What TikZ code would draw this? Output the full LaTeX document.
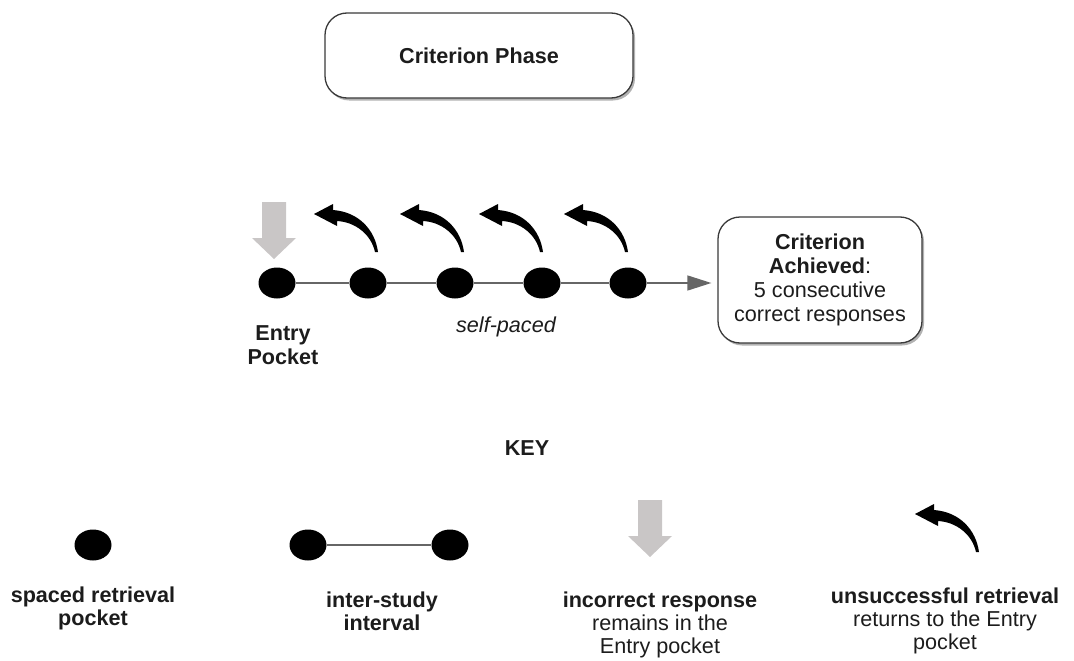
\documentclass[tikz,border=0pt]{standalone}
\usepackage{fontspec}
\setmainfont{Liberation Sans}
\usetikzlibrary{arrows.meta,shapes.geometric,shadows}

\definecolor{ink}{HTML}{1C1C1C}
\definecolor{edge}{HTML}{3A3A3A}
\definecolor{linkgray}{HTML}{666666}
\definecolor{softgray}{HTML}{C9C6C6}

\begin{document}
\begin{tikzpicture}[x=1pt, y=-1pt,
  txt/.style={font=\fontsize{21.6}{23}\selectfont, text=ink, align=center, inner sep=0pt},
  panel/.style={draw=edge, line width=1.3pt, fill=white, rounded corners=22pt,
    drop shadow={shadow xshift=2pt, shadow yshift=-2.5pt, fill=black!55, opacity=0.55}},
  pocket/.style={ellipse, fill=black, minimum width=37pt, minimum height=31pt, inner sep=0pt},
  link/.style={draw=linkgray, line width=1.4pt},
  pics/backarrow/.style={code={
    \fill[black] (1,0) .. controls (-2,-22) and (-18,-40) .. (-44,-42)
      -- (-44,-48) -- (-63,-38) -- (-40,-26) -- (-40,-31)
      .. controls (-22,-30) and (-6,-18) .. (-2,0) -- cycle;}},
  pics/stayarrow/.style={code={
    \fill[softgray] (-12,0) -- (12,0) -- (12,36) -- (22,36) -- (0,57)
      -- (-22,36) -- (-12,36) -- cycle;}}
]
\useasboundingbox (0,0) rectangle (1074,661);

% title panel
\node[panel, txt, minimum width=308pt, minimum height=85pt] (phase) at (479,55.5)
  {\textbf{Criterion Phase}};

% goal panel
\node[panel, txt, minimum width=204pt, minimum height=126pt, font=\fontsize{21.6}{24}\selectfont]
  (goal) at (820,280)
  {\textbf{Criterion}\\ \textbf{Achieved}:\\ 5 consecutive\\ correct responses};

% pockets along the self-paced line
\node[pocket] (p1) at (277,283) {};
\node[pocket] (p2) at (368,283) {};
\node[pocket] (p3) at (455,283) {};
\node[pocket] (p4) at (542,283) {};
\node[pocket] (p5) at (628,283) {};

\draw[link] (p1) -- (p2);
\draw[link] (p2) -- (p3);
\draw[link] (p3) -- (p4);
\draw[link] (p4) -- (p5);
\draw[link, -{Triangle[length=24pt, width=15pt]}, shorten >=6pt] (p5) -- (p5 -| goal.west);

% incorrect / unsuccessful markers
\pic at (274,202) {stayarrow};
\pic at (377,252) {backarrow};
\pic at (463,252) {backarrow};
\pic at (542,252) {backarrow};
\pic at (627,252) {backarrow};

\node[txt, font=\fontsize{21.6}{24}\selectfont\bfseries] (entry) at (283,345) {Entry\\Pocket};
\node[txt, font=\fontsize{21.6}{23}\selectfont\itshape] (pace) at (506,327) {self-paced};

% key
\node[txt, font=\fontsize{21.6}{23}\selectfont\bfseries] (key) at (527,448) {KEY};

\node[pocket] (k1) at (93,545) {};
\node[txt] (k1t) at (93,608.5) {\textbf{spaced retrieval}\\ \textbf{pocket}};

\node[pocket] (k2) at (308,545) {};
\node[pocket] (k3) at (450,545) {};
\draw[link] (k2) -- (k3);
\node[txt] (k2t) at (382,611) {\textbf{inter-study}\\ \textbf{interval}};

\pic at (650,500) {stayarrow};
\node[txt] (k4t) at (660,625) {\textbf{incorrect response}\\ remains in the\\ Entry pocket};

\pic at (978,552) {backarrow};
\node[txt] (k5t) at (945,621) {\textbf{unsuccessful retrieval}\\ returns to the Entry\\ pocket};
\end{tikzpicture}
\end{document}
